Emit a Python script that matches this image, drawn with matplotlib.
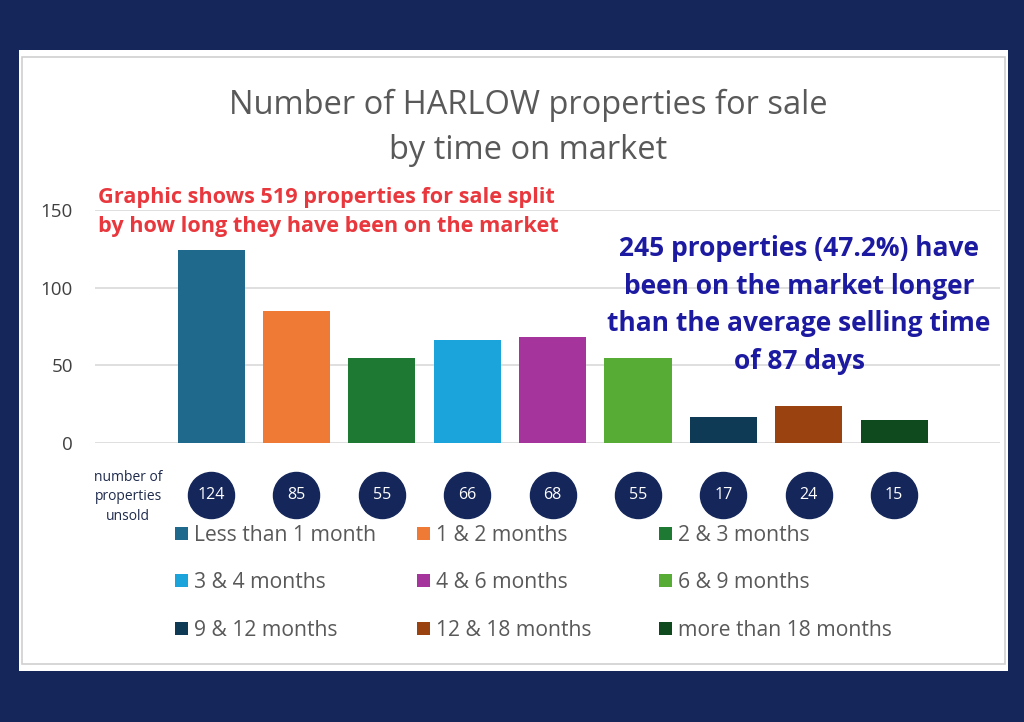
import matplotlib
matplotlib.use("Agg")
import matplotlib.pyplot as plt
from matplotlib.patches import Rectangle

categories = ["Less than 1 month", "1 & 2 months", "2 & 3 months", "3 & 4 months",
              "4 & 6 months", "6 & 9 months", "9 & 12 months", "12 & 18 months",
              "more than 18 months"]
values = [124, 85, 55, 66, 68, 55, 17, 24, 15]
colors = ["#1F6A8C", "#EE7A35", "#1E7A33", "#1BA3DC", "#A5359C", "#56AC35",
          "#0E3A55", "#9A4210", "#0F4A1E"]
yticks = [0, 50, 100, 150]

title = "Number of HARLOW properties for sale\nby time on market"
red_note = "Graphic shows 519 properties for sale split\nby how long they have been on the market"
blue_note = "245 properties (47.2%) have\nbeen on the market longer\nthan the average selling time\nof 87 days"

W, H = 1024, 722
NAVY = "#14265A"
plt.rcParams['font.family'] = ['Open Sans', 'DejaVu Sans']
fig = plt.figure(figsize=(W / 100, H / 100), dpi=100, facecolor=NAVY)


def fx(px):
    return px / W


def fy(py):
    return 1 - py / H


# white panel and inner border
fig.patches.append(Rectangle((fx(19), fy(671)), fx(1008) - fx(19), fy(50) - fy(671),
                             transform=fig.transFigure, facecolor="white", edgecolor="none",
                             zorder=-10))
fig.patches.append(Rectangle((fx(22), fy(664)), fx(1005) - fx(22), fy(57) - fy(664),
                             transform=fig.transFigure, facecolor="none", edgecolor="#D0D0D0",
                             linewidth=1.2, zorder=-9))

ax = fig.add_axes([fx(95), fy(443), fx(1000) - fx(95), fy(210) - fy(443)], zorder=1)
ax.set_facecolor("none")
x = list(range(len(values)))
ax.bar(x, values, width=0.785, color=colors, zorder=3)
ax.set_xlim(-1.36, 9.24)
ax.set_ylim(0, 150)
ax.set_yticks(yticks)
ax.set_yticklabels([str(t) for t in yticks], fontsize=13.5, color="#404040")
ax.tick_params(axis="y", length=0, pad=16)
ax.set_xticks([])
for s in ax.spines.values():
    s.set_visible(False)
ax.grid(axis="y", color="#D9D9D9", linewidth=1.2, zorder=0)

# circles with counts below bars
cy = -33.5
ax.scatter(x, [cy] * len(x), s=1100, color=NAVY, clip_on=False, zorder=4)
for xi, v in zip(x, values):
    ax.text(xi, cy, str(v), ha="center", va="center", color="white", fontsize=11.5, zorder=5,
            clip_on=False)

fig.text(fx(128), fy(497), "number of\nproperties\nunsold", ha="center", va="center",
         fontsize=10, color="#1F2B4D", linespacing=1.45)

# title
fig.text(fx(528), fy(128), title, ha="center", va="center", fontsize=23.5, color="#595959",
         linespacing=1.5)

# annotations
fig.text(fx(98), fy(212), red_note, ha="left", va="center", fontsize=15.6, fontweight="bold",
         color="#E8383D", linespacing=1.45)
fig.text(fx(799), fy(305), blue_note, ha="center", va="center", fontsize=19, fontweight="bold",
         color="#1C1AA0", linespacing=1.5)

# legend entries, laid out row-wise as in the original
ncol = 3
col_x = [181, 423, 665]
row_y = [533, 580, 628]
sq = 13
for i, (lab, col) in enumerate(zip(categories, colors)):
    r, c = divmod(i, ncol)
    px, py = col_x[c], row_y[r]
    fig.patches.append(Rectangle((fx(px - sq / 2), fy(py + sq / 2)), fx(sq), fy(0) - fy(sq),
                                 transform=fig.transFigure, facecolor=col, edgecolor="none"))
    fig.text(fx(px + 13), fy(py), lab, ha="left", va="center_baseline", fontsize=15.2,
             color="#595959")

fig.savefig("out.png", dpi=100, facecolor=NAVY)
